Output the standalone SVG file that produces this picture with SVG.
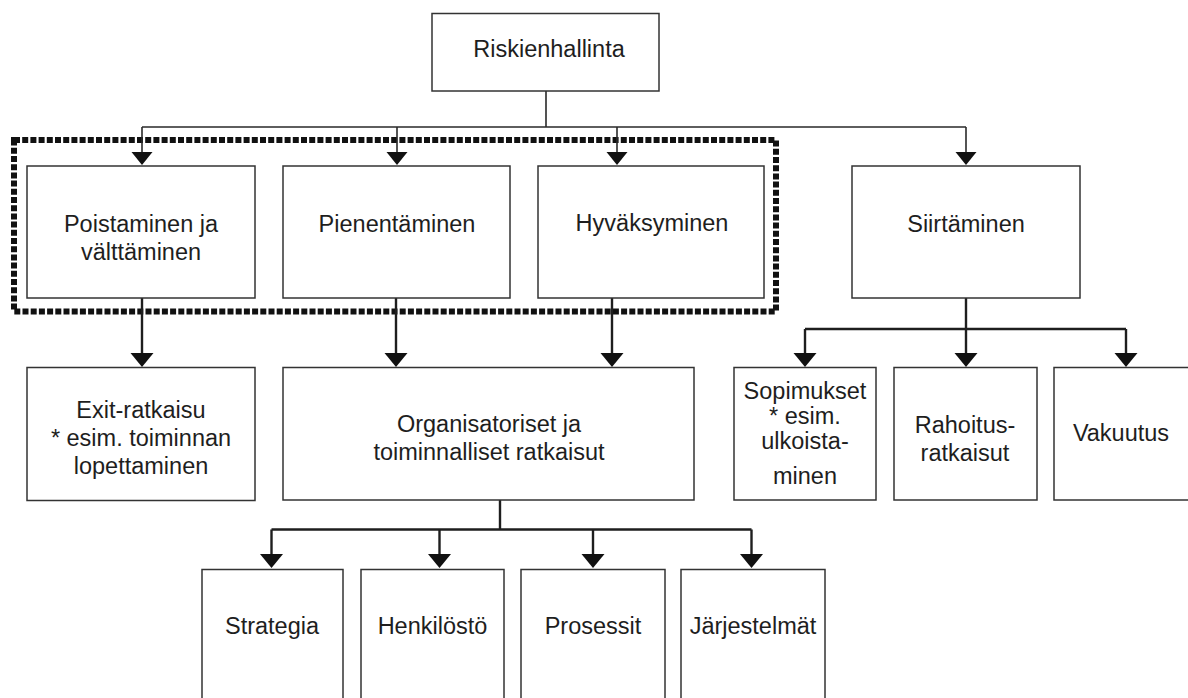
<svg xmlns="http://www.w3.org/2000/svg" width="1188" height="698" viewBox="0 0 1188 698">
<defs>
<style>
.box{fill:#ffffff;stroke:#333333;stroke-width:1.5}
.lbl{font-family:"Liberation Sans",Arial,sans-serif;font-size:23.5px;fill:#1e1e1e;text-anchor:middle}
.thin{fill:none;stroke:#2a2a2a;stroke-width:1.6}
.thick{fill:none;stroke:#1e1e1e;stroke-width:2.4}
.dotted{fill:none;stroke:#111111;stroke-width:6;stroke-dasharray:6 2.2}
</style>
<marker id="arrS" markerUnits="userSpaceOnUse" markerWidth="24" markerHeight="24" viewBox="0 -12 14 24" refX="9" refY="0" orient="auto">
<path d="M0,-10.5 L13,0 L0,10.5 Z" fill="#111111"/>
</marker>
<marker id="arrL" markerUnits="userSpaceOnUse" markerWidth="26" markerHeight="26" viewBox="0 -13 15 26" refX="10" refY="0" orient="auto">
<path d="M0,-11.5 L14,0 L0,11.5 Z" fill="#111111"/>
</marker>
</defs>
<rect width="1188" height="698" fill="#ffffff"/>

<rect id="focus-group" class="dotted" x="14" y="140" width="762" height="171.5"/>

<g id="connectors">
<path class="thin" d="M546,91 V127 M142,127 H966"/>
<path class="thin" marker-end="url(#arrS)" d="M142,127 V161"/>
<path class="thin" marker-end="url(#arrS)" d="M397,127 V161"/>
<path class="thin" marker-end="url(#arrS)" d="M617,127 V161"/>
<path class="thin" marker-end="url(#arrS)" d="M966,127 V161"/>

<path class="thick" marker-end="url(#arrL)" d="M142,298 V363"/>
<path class="thick" marker-end="url(#arrL)" d="M396,298 V363"/>
<path class="thick" marker-end="url(#arrL)" d="M612,298 V363"/>

<path class="thick" d="M966,298 V329 M805,329 H1126"/>
<path class="thick" marker-end="url(#arrL)" d="M805,329 V363"/>
<path class="thick" marker-end="url(#arrL)" d="M966,329 V363"/>
<path class="thick" marker-end="url(#arrL)" d="M1126,329 V363"/>

<path class="thick" d="M500,500 V529.5 M271.5,529.5 H751.5"/>
<path class="thick" marker-end="url(#arrL)" d="M271.5,529.5 V564"/>
<path class="thick" marker-end="url(#arrL)" d="M439.5,529.5 V564"/>
<path class="thick" marker-end="url(#arrL)" d="M593,529.5 V564"/>
<path class="thick" marker-end="url(#arrL)" d="M751.5,529.5 V564"/>
</g>

<g id="riskienhallinta">
<rect class="box" x="432" y="13.5" width="227" height="77.5"/>
<text class="lbl" x="549" y="57">Riskienhallinta</text>
</g>

<g id="poistaminen">
<rect class="box" x="27" y="166" width="228" height="132"/>
<text class="lbl" x="141" y="232">Poistaminen ja</text>
<text class="lbl" x="141" y="260">välttäminen</text>
</g>

<g id="pienentaminen">
<rect class="box" x="283" y="166" width="227" height="132"/>
<text class="lbl" x="397" y="232">Pienentäminen</text>
</g>

<g id="hyvaksyminen">
<rect class="box" x="538" y="166" width="226" height="132"/>
<text class="lbl" x="652" y="231">Hyväksyminen</text>
</g>

<g id="siirtaminen">
<rect class="box" x="852" y="166" width="228" height="132"/>
<text class="lbl" x="966" y="232">Siirtäminen</text>
</g>

<g id="exit">
<rect class="box" x="27" y="367.5" width="228" height="133"/>
<text class="lbl" x="141" y="418">Exit-ratkaisu</text>
<text class="lbl" x="141" y="446">* esim. toiminnan</text>
<text class="lbl" x="141" y="474">lopettaminen</text>
</g>

<g id="organisatoriset">
<rect class="box" x="283" y="367.5" width="411" height="132.5"/>
<text class="lbl" x="489" y="432">Organisatoriset ja</text>
<text class="lbl" x="489" y="460">toiminnalliset ratkaisut</text>
</g>

<g id="sopimukset">
<rect class="box" x="734" y="367.5" width="142" height="132.5"/>
<text class="lbl" x="805" y="399">Sopimukset</text>
<text class="lbl" x="805" y="424">* esim.</text>
<text class="lbl" x="805" y="449">ulkoista-</text>
<text class="lbl" x="805" y="484">minen</text>
</g>

<g id="rahoitus">
<rect class="box" x="894" y="367.5" width="143" height="132.5"/>
<text class="lbl" x="965" y="433">Rahoitus-</text>
<text class="lbl" x="965" y="461">ratkaisut</text>
</g>

<g id="vakuutus">
<rect class="box" x="1054" y="367.5" width="144" height="132.5"/>
<text class="lbl" x="1121" y="441">Vakuutus</text>
</g>

<g id="strategia">
<rect class="box" x="202" y="569.5" width="141" height="150"/>
<text class="lbl" x="272" y="634">Strategia</text>
</g>

<g id="henkilosto">
<rect class="box" x="361" y="569.5" width="143" height="150"/>
<text class="lbl" x="432.5" y="634">Henkilöstö</text>
</g>

<g id="prosessit">
<rect class="box" x="521" y="569.5" width="144" height="150"/>
<text class="lbl" x="593" y="634">Prosessit</text>
</g>

<g id="jarjestelmat">
<rect class="box" x="681" y="569.5" width="144" height="150"/>
<text class="lbl" x="753" y="634">Järjestelmät</text>
</g>
</svg>
